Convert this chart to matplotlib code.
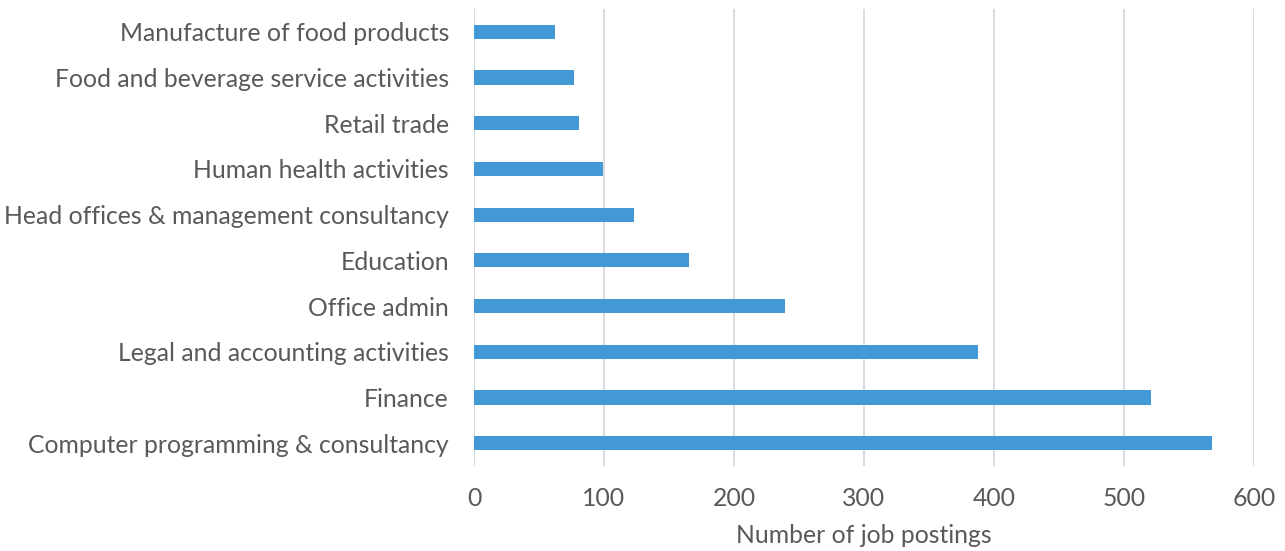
import matplotlib
matplotlib.use("Agg")
from matplotlib import pyplot as plt

categories = [
    "Computer programming & consultancy",
    "Finance",
    "Legal and accounting activities",
    "Office admin",
    "Education",
    "Head offices & management consultancy",
    "Human health activities",
    "Retail trade",
    "Food and beverage service activities",
    "Manufacture of food products",
]
postings = [568, 521, 388, 239, 165, 123, 99, 81, 77, 62]
x_ticks = [0, 100, 200, 300, 400, 500, 600]

text_color = "#595959"
bar_color = "#4398D6"
grid_color = "#D9D9D9"

plt.rcParams["font.family"] = ["Lato", "DejaVu Sans"]

fig = plt.figure(figsize=(12.85, 5.51), dpi=100)
ax = fig.add_axes([474 / 1285, 1 - 466 / 551, 780 / 1285, 457 / 551])

ax.barh(range(len(categories)), postings, height=0.31, color=bar_color, zorder=3)

ax.set_xlim(0, 600)
ax.set_ylim(-0.5, len(categories) - 0.5)
ax.set_xticks(x_ticks)
ax.set_xticklabels([str(t) for t in x_ticks])
ax.set_yticks(range(len(categories)))
ax.set_yticklabels(categories)

ax.grid(axis="x", color=grid_color, linewidth=1.3, zorder=0)
for s in ["top", "right", "bottom", "left"]:
    ax.spines[s].set_visible(False)
ax.axvline(0, color=grid_color, linewidth=1.3, zorder=1)

ax.tick_params(axis="both", length=0, labelsize=17.8, colors=text_color)
ax.tick_params(axis="y", pad=18)
ax.tick_params(axis="x", pad=15)
ax.set_xlabel("Number of job postings", fontsize=17.8, color=text_color, labelpad=10)

plt.savefig("out.png", dpi=100)
